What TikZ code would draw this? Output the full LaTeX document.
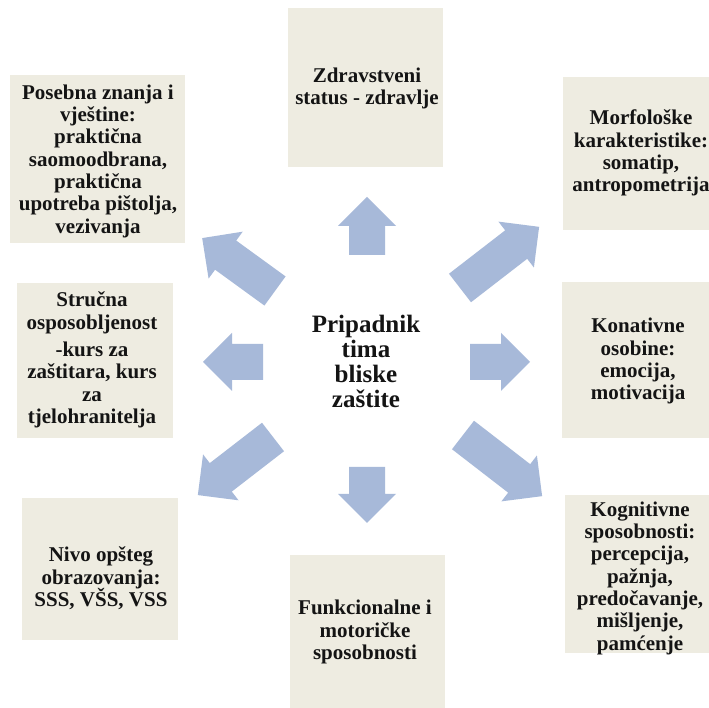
\documentclass[tikz,border=0pt]{standalone}
\usepackage{fontspec}
\setmainfont{Liberation Serif}
\definecolor{boxfill}{HTML}{EEECE1}
\definecolor{arrowfill}{HTML}{A7B9D9}
\definecolor{txtcol}{HTML}{141414}
\tikzset{
  boxnode/.style={fill=boxfill, draw=none, inner sep=0pt},
  boxtxt/.style={font=\fontsize{21}{22.3}\selectfont\bfseries, align=center, inner sep=0pt, anchor=center, text=txtcol},
  centertxt/.style={font=\fontsize{25}{25}\selectfont\bfseries, align=center, inner sep=0pt, anchor=center, text=txtcol},
  arrowshape/.style={fill=arrowfill, draw=none}
}
\newcommand\myblockarrow[4]{%
  \begin{scope}[shift={(#1,#2)},rotate=#3]
    \fill[arrowshape] (0,-18) -- ({#4-29},-18) -- ({#4-29},-29) -- (#4,0) -- ({#4-29},29) -- ({#4-29},18) -- (0,18) -- cycle;
  \end{scope}}
\newcommand\myfstrut{\rule[-4.5pt]{0pt}{19.5pt}}
\newcommand\mycstrut{\rule[-5.5pt]{0pt}{23pt}}
\AtBeginDocument{\lineskiplimit=-30pt\relax\lineskip=0pt\relax}
\begin{document}
\begin{tikzpicture}[x=1pt,y=1pt]
\useasboundingbox (0,0) rectangle (709,708);
\fill[white] (0,0) rectangle (709,708);
\clip (0,0) rectangle (709,708);

% boxes
\node[boxnode, minimum width=175pt, minimum height=168pt] (b1) at (97.5,549) {};
\node[boxnode, minimum width=155pt, minimum height=159pt] (b2) at (365.5,620.5) {};
\node[boxnode, minimum width=159pt, minimum height=153pt] (b3) at (642.5,554.5) {};
\node[boxnode, minimum width=156pt, minimum height=155pt] (b4) at (95,347.5) {};
\node[boxnode, minimum width=154pt, minimum height=156pt] (b5) at (639,348) {};
\node[boxnode, minimum width=156pt, minimum height=142pt] (b6) at (100,139) {};
\node[boxnode, minimum width=155pt, minimum height=165pt] (b7) at (367.5,70.5) {};
\node[boxnode, minimum width=150pt, minimum height=158pt] (b8) at (640,134) {};

% texts
\node[boxtxt] (t1) at (98,547) {\myfstrut Posebna znanja i\\vještine:\\praktična\\saomoodbrana,\\praktična\\upotreba pištolja,\\\myfstrut vezivanja};
\node[boxtxt] (t2) at (367,620) {\myfstrut Zdravstveni\\\myfstrut status - zdravlje};
\node[boxtxt] (t3) at (641,555) {\myfstrut Morfološke\\karakteristike:\\somatip,\\\myfstrut antropometrija};
\node[boxtxt] (t4) at (92,348) {\myfstrut Stručna\\osposobljenost\\[5pt]-kurs za\\zaštitara, kurs\\za\\\myfstrut tjelohranitelja};
\node[boxtxt] (t5) at (638,347) {\myfstrut Konativne\\osobine:\\emocija,\\\myfstrut motivacija};
\node[boxtxt] (t6) at (101,129) {\myfstrut Nivo opšteg\\obrazovanja:\\\myfstrut SSS, VŠS, VSS};
\node[boxtxt] (t7) at (365,76) {\myfstrut Funkcionalne i\\motoričke\\\myfstrut sposobnosti};
\node[boxtxt] (t8) at (640,130) {\myfstrut Kognitivne\\sposobnosti:\\percepcija,\\pažnja,\\predočavanje,\\mišljenje,\\\myfstrut pamćenje};
\node[centertxt] (c) at (366,344) {\mycstrut Pripadnik\\tima\\bliske\\\mycstrut zaštite};

% arrows
\myblockarrow{367}{453}{90}{58}
\myblockarrow{367}{241}{-90}{56}
\myblockarrow{263}{346}{180}{60}
\myblockarrow{470}{346}{0}{60}
\myblockarrow{460}{420}{37.7}{100}
\myblockarrow{275}{417}{144}{90}
\myblockarrow{273}{271}{217.7}{95}
\myblockarrow{463}{273}{-37.7}{100}
\end{tikzpicture}
\end{document}
